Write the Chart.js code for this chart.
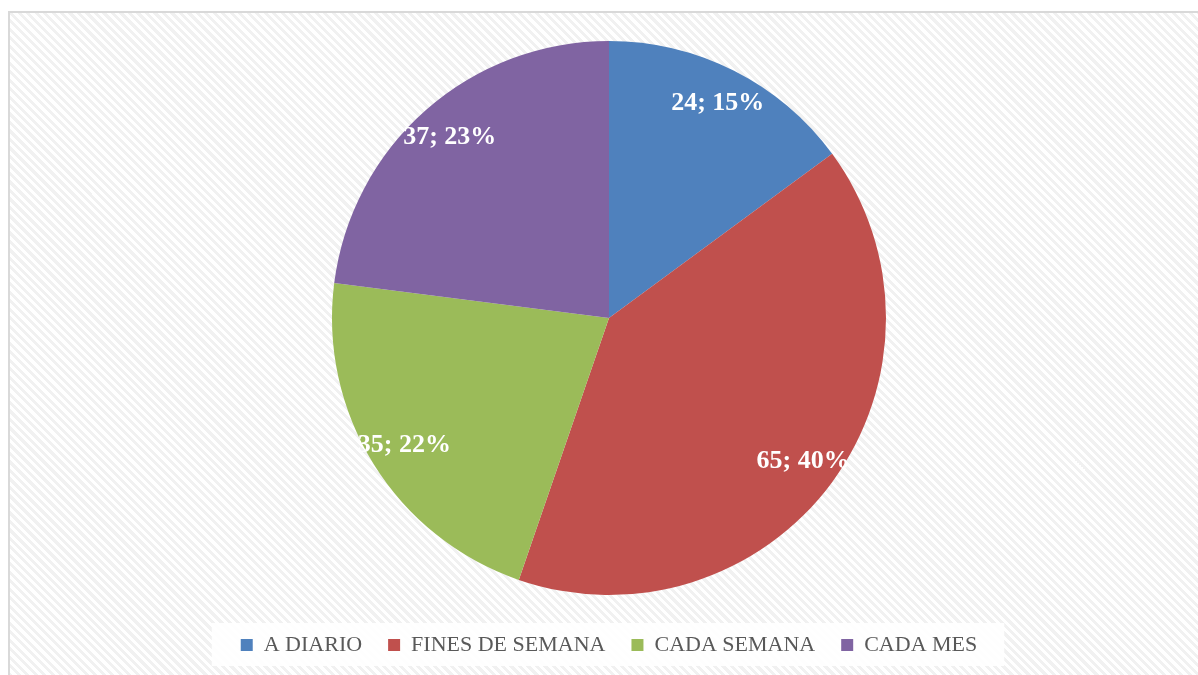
<!DOCTYPE html>
<html>
<head>
<meta charset="utf-8">
<script src="https://cdn.jsdelivr.net/npm/chart.js@4.4.1/dist/chart.umd.min.js"></script>
<style>
  html, body { margin: 0; padding: 0; background: #fff; overflow: hidden; }
  #frame {
    position: absolute; left: 8px; top: 11px; width: 1200px; height: 680px;
    border: 2px solid #d9d9d9; box-sizing: border-box;
    background: repeating-linear-gradient(45deg, #ffffff 0px, #ffffff 3px, #f1f1f1 3px, #f1f1f1 6px);
  }
  #wrap { position: absolute; left: 0; top: 0; width: 1198px; height: 666px; }
</style>
</head>
<body>
<div id="frame"></div>
<div id="wrap"><canvas id="myChart"></canvas></div>
<script>
var labels = ["A DIARIO", "FINES DE SEMANA", "CADA SEMANA", "CADA MES"];
var values = [24, 65, 35, 37];
var colors = ["#4f81bd", "#c0504d", "#9bbb59", "#8064a2"];

// draws "value; percent" inside each slice
var sliceLabels = {
    id: 'sliceLabels',
    afterDatasetsDraw: function (chart) {
        var ctx = chart.ctx;
        var meta = chart.getDatasetMeta(0);
        var total = values.reduce(function (a, b) { return a + b; }, 0);
        ctx.save();
        ctx.font = "bold 26px 'Liberation Serif'";
        ctx.fillStyle = "#ffffff";
        ctx.textAlign = "center";
        ctx.textBaseline = "middle";
        meta.data.forEach(function (arc, i) {
            var p = arc.getProps(['x', 'y', 'startAngle', 'endAngle', 'outerRadius'], true);
            var mid = (p.startAngle + p.endAngle) / 2;
            var r = p.outerRadius * 0.87;
            var txt = values[i] + "; " + Math.round(values[i] / total * 100) + "%";
            ctx.fillText(txt, p.x + Math.cos(mid) * r, p.y + Math.sin(mid) * r);
        });
        ctx.restore();
    }
};

// white box behind the legend
var legendBox = {
    id: 'legendBox',
    beforeDraw: function (chart) {
        var boxes = chart.legend && chart.legend.legendHitBoxes;
        if (!boxes || !boxes.length) return;
        var left = Math.min.apply(null, boxes.map(function (b) { return b.left; }));
        var right = Math.max.apply(null, boxes.map(function (b) { return b.left + b.width; }));
        var top = boxes[0].top;
        var h = boxes[0].height;
        var ctx = chart.ctx;
        ctx.save();
        ctx.fillStyle = "rgba(255,255,255,0.92)";
        ctx.fillRect(left - 29, top + h / 2 - 22, right - left + 56, 44);
        ctx.restore();
    }
};

var ctx = document.getElementById('myChart').getContext('2d');
var chart = new Chart(ctx, {
    type: 'pie',
    data: {
        labels: labels,
        datasets: [{
            data: values,
            backgroundColor: colors,
            borderWidth: 0,
            radius: 277
        }]
    },
    options: {
        responsive: true,
        maintainAspectRatio: false,
        animation: false,
        layout: { padding: { left: 20, right: 0, top: 28, bottom: 0 } },
        plugins: {
            tooltip: { enabled: false },
            legend: {
                position: 'bottom',
                labels: {
                    boxWidth: 12,
                    boxHeight: 12,
                    padding: 26,
                    color: "#595959",
                    font: { family: "'Liberation Serif'", size: 22 }
                }
            }
        }
    },
    plugins: [legendBox, sliceLabels]
});
</script>
</body>
</html>
